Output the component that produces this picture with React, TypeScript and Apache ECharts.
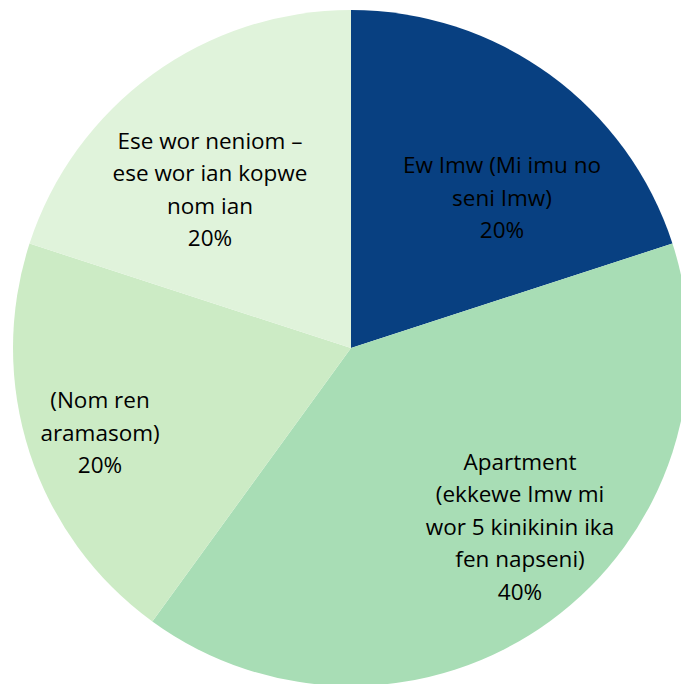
import React, { useEffect, useRef } from "react";
import * as echarts from "echarts";

const categories = [
  "Ew Imw (Mi imu no\nseni Imw)",
  "Apartment\n(ekkewe Imw mi\nwor 5 kinikinin ika\nfen napseni)",
  "(Nom ren\naramasom)",
  "Ese wor neniom –\nese wor ian kopwe\nnom ian",
];
const values = [20, 40, 20, 20];
const colors = ["#084081", "#a8ddb5", "#ccebc5", "#e0f3db"];
const labelPos: [number, number][] = [
  [502, 197],
  [520, 526],
  [100, 432],
  [210, 189],
];

export default function App() {
  const ref = useRef<HTMLDivElement>(null);
  useEffect(() => {
    if (!ref.current) return;
    const chart = echarts.init(ref.current, undefined, { renderer: "svg" });
    chart.setOption({
      animation: false,
      backgroundColor: "#ffffff",
      series: [
        {
          type: "pie",
          center: [351, 348],
          radius: 338,
          startAngle: 90,
          clockwise: true,
          data: categories.map((name, i) => ({
            name,
            value: values[i],
            itemStyle: { color: colors[i] },
          })),
          itemStyle: { borderWidth: 0 },
          label: {
            show: true,
            position: "inside",
            formatter: (p: any) => `${p.name}\n${p.percent.toFixed(0)}%`,
            color: "#000000",
            fontFamily: "'Open Sans', 'Noto Sans', sans-serif",
            fontSize: 22.5,
            lineHeight: 32.5,
            align: "center",
          },
          labelLine: { show: false },
          labelLayout: (params: any) => {
            const p = labelPos[params.dataIndex];
            return { x: p[0], y: p[1], align: "center", verticalAlign: "middle" };
          },
          emphasis: { disabled: true },
        },
      ],
    });
    return () => chart.dispose();
  }, []);
  return (
    <div
      ref={ref}
      style={{ position: "fixed", left: 0, top: 0, width: 681, height: 684 }}
    />
  );
}
